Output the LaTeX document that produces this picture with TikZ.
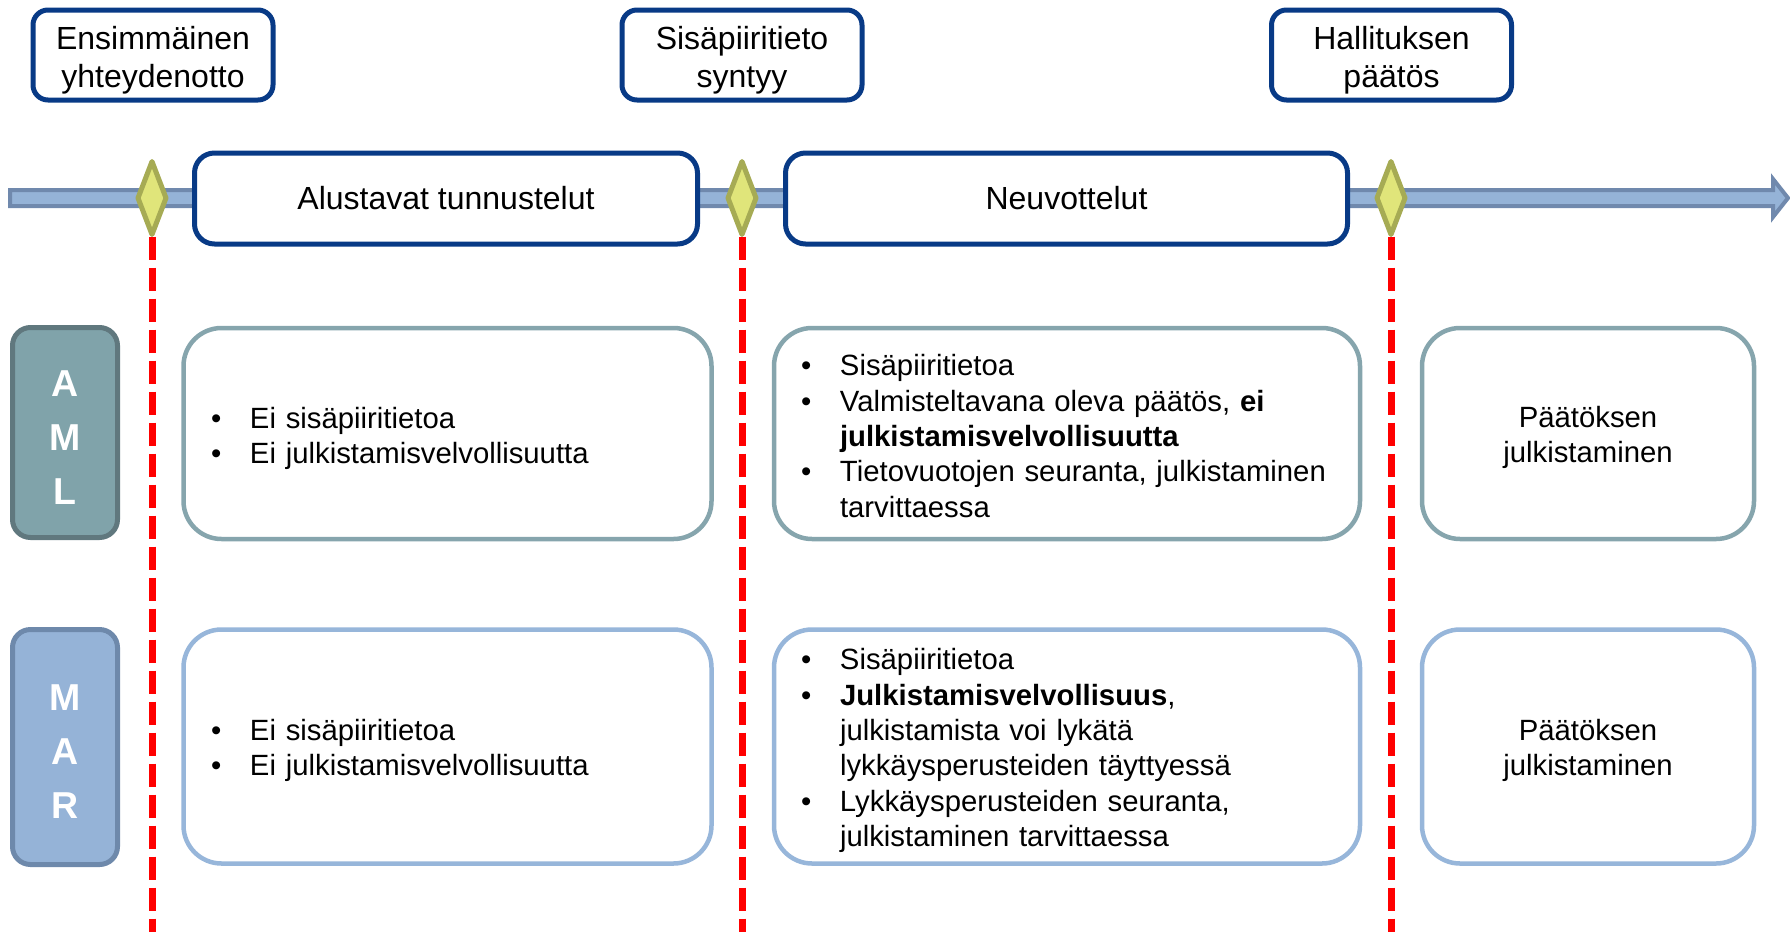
\documentclass[tikz,border=0pt]{standalone}
\usepackage{fontspec}
\setmainfont{Liberation Sans}
\definecolor{navy}{RGB}{8,58,134}
\definecolor{arrfill}{RGB}{149,179,215}
\definecolor{arrdraw}{RGB}{112,137,173}
\definecolor{dfill}{RGB}{224,229,122}
\definecolor{ddraw}{RGB}{166,171,84}
\definecolor{amlfill}{RGB}{128,163,170}
\definecolor{amldraw}{RGB}{96,120,126}
\definecolor{amlbord}{RGB}{134,165,173}
\definecolor{marfill}{RGB}{149,179,215}
\definecolor{mardraw}{RGB}{110,137,171}
\definecolor{marbord}{RGB}{151,182,218}
\newcommand\bul{\makebox[39pt][l]{\textbullet}}
\newcommand\ind{\hspace*{39pt}}
\begin{document}
\begin{tikzpicture}[x=1pt,y=-1pt,
  topbox/.style={draw=navy,line width=5pt,fill=white,rounded corners=15pt,
    minimum width=240pt,minimum height=90pt,inner sep=0pt},
  toptext/.style={align=center,inner sep=0pt,font=\fontsize{32}{38.3}\selectfont},
  phasebox/.style={draw=navy,line width=5pt,fill=white,rounded corners=20pt,
    minimum height=91pt,inner sep=0pt,font=\fontsize{32}{38}\selectfont},
  milestone/.style={draw=ddraw,fill=dfill,line width=5pt,line join=round},
  reddash/.style={draw=red,line width=7pt,dash pattern=on 23pt off 8pt},
  labelbox/.style={line width=5pt,rounded corners=18pt,minimum width=105pt,inner sep=0pt},
  labeltext/.style={align=center,text=white,inner sep=0pt,
    font=\fontsize{37.5}{54}\selectfont\bfseries},
  contentbox/.style={line width=4.5pt,fill=white,rounded corners=38pt,inner sep=0pt},
  ctext/.style={align=left,inner sep=0pt,font=\fontsize{29.3}{35.3}\selectfont},
  ftext/.style={align=center,inner sep=0pt,font=\fontsize{29.3}{35.3}\selectfont}
]
\useasboundingbox (0,0) rectangle (1790,932);
\coordinate (bot) at (0,932);
% timeline arrow
\filldraw[fill=arrfill,draw=arrdraw,line width=4pt]
  (10,190) -- (1773,190) -- (1773,179) -- (1788,198) -- (1773,217)
  -- (1773,206) -- (10,206) -- cycle;
% top event boxes
\node[topbox] (t1) at (153,55) {};
\node[toptext] (t1x) at (153,60) {Ensimmäinen\\yhteydenotto};
\node[topbox] (t2) at (742,55) {};
\node[toptext] (t2x) at (742,60) {Sisäpiiritieto\\syntyy};
\node[topbox] (t3) at (1391.5,55) {};
\node[toptext] (t3x) at (1391.5,60) {Hallituksen\\päätös};
% phase boxes
\node[phasebox,minimum width=503pt] (p1) at (446,198.5) {Alustavat tunnustelut};
\node[phasebox,minimum width=562pt] (p2) at (1066.5,198.5) {Neuvottelut};
% milestones
\foreach \n/\x in {d1/152,d2/742,d3/1391}{
  \coordinate (\n) at (\x,198);
  \draw[reddash] (\x,236.5) -- (\x,932);
  \path[milestone] (\x,161.5) -- (\x+14,198) -- (\x,234.5) -- (\x-14,198) -- cycle;
}
% row labels
\node[labelbox,fill=amlfill,draw=amldraw,minimum height=210pt] (aml) at (65,432.5) {};
\node[labeltext] (amlx) at (65,438) {A\\M\\L};
\node[labelbox,fill=marfill,draw=mardraw,minimum height=235pt] (mar) at (65,747) {};
\node[labeltext] (marx) at (65,751.5) {M\\A\\R};
% AML row
\node[contentbox,draw=amlbord,minimum width=528pt,minimum height=211pt] (b11) at (447.5,433.5) {};
\node[ctext,text width=473pt] (b11x) at (447.5,438.5)
  {\bul Ei sisäpiiritietoa\\\bul Ei julkistamisvelvollisuutta};
\node[contentbox,draw=amlbord,minimum width=586pt,minimum height=211pt] (b12) at (1067,433.5) {};
\node[ctext,text width=532pt] (b12x) at (1067,436)
  {\bul Sisäpiiritietoa\\
   \bul Valmisteltavana oleva päätös, \textbf{ei}\\
   \ind\textbf{julkistamisvelvollisuutta}\\
   \bul Tietovuotojen seuranta, julkistaminen\\
   \ind tarvittaessa};
\node[contentbox,draw=amlbord,minimum width=332pt,minimum height=211pt] (b13) at (1588,433.5) {};
\node[ftext] (b13x) at (1588,437.5) {Päätöksen\\julkistaminen};
% MAR row
\node[contentbox,draw=marbord,minimum width=528pt,minimum height=234pt] (b21) at (447.5,746.5) {};
\node[ctext,text width=473pt] (b21x) at (447.5,750.5)
  {\bul Ei sisäpiiritietoa\\\bul Ei julkistamisvelvollisuutta};
\node[contentbox,draw=marbord,minimum width=586pt,minimum height=234pt] (b22) at (1067,746.5) {};
\node[ctext,text width=532pt] (b22x) at (1067,750.5)
  {\bul Sisäpiiritietoa\\
   \bul\textbf{Julkistamisvelvollisuus},\\
   \ind julkistamista voi lykätä\\
   \ind lykkäysperusteiden täyttyessä\\
   \bul Lykkäysperusteiden seuranta,\\
   \ind julkistaminen tarvittaessa};
\node[contentbox,draw=marbord,minimum width=332pt,minimum height=234pt] (b23) at (1588,746.5) {};
\node[ftext] (b23x) at (1588,750.5) {Päätöksen\\julkistaminen};
\end{tikzpicture}
\end{document}
